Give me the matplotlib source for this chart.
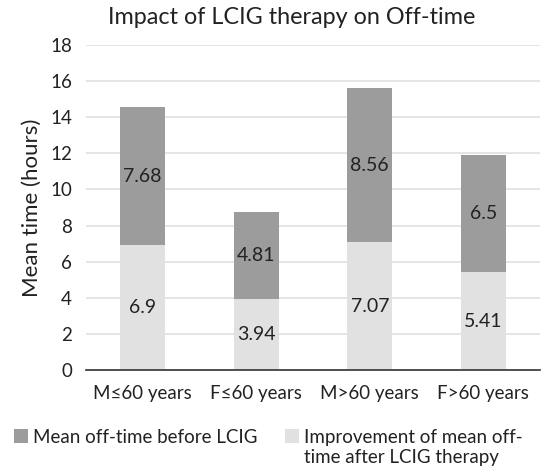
import matplotlib
matplotlib.use("Agg")
import matplotlib.pyplot as plt
import numpy as np

categories = ["M\u226460 years", "F\u226460 years", "M>60 years", "F>60 years"]
improvement = [6.9, 3.94, 7.07, 5.41]
before = [7.68, 4.81, 8.56, 6.5]
labels = ["Mean off-time before LCIG", "Improvement of mean off-\ntime after LCIG therapy"]
yticks = [0, 2, 4, 6, 8, 10, 12, 14, 16, 18]

plt.rcParams['font.family'] = ['Lato', 'DejaVu Sans']

fig = plt.figure(figsize=(5.42, 4.69), dpi=100)
ax = fig.add_axes([86/542, 1-370/469, 454/542, 325/469])

x = np.arange(len(categories))
w = 0.395
light = "#e1e1e1"
dark = "#9c9c9c"
txt = "#222222"
b1 = ax.bar(x, improvement, w, color=light, zorder=2)
b2 = ax.bar(x, before, w, bottom=improvement, color=dark, zorder=2)

for i in range(len(x)):
    ax.text(x[i], improvement[i]/2, f"{improvement[i]:g}", ha="center", va="center", fontsize=14, color=txt)
    ax.text(x[i], improvement[i] + before[i]/2, f"{before[i]:g}", ha="center", va="center", fontsize=14, color=txt)

ax.set_xlim(-0.5, 3.5)
ax.set_ylim(0, 18)
ax.set_yticks(yticks)
ax.set_yticklabels([str(t) for t in yticks], fontsize=13.5, color=txt)
ax.set_xticks(x)
ax.set_xticklabels(categories, fontsize=13.5, color=txt)
ax.tick_params(axis="y", length=0, pad=10)
ax.tick_params(axis="x", length=0, pad=11)
ax.yaxis.grid(True, color="#e0e0e0", linewidth=1.2, zorder=0)
ax.set_axisbelow(True)
for s in ["top", "right", "left"]:
    ax.spines[s].set_visible(False)
ax.spines["bottom"].set_color("#333333")
ax.spines["bottom"].set_linewidth(1.2)
ax.spines["bottom"].set_zorder(3)

ax.set_ylabel("Mean time (hours)", fontsize=16, color=txt, labelpad=6)
fig.text(292/542, 1-18/469, "Impact of LCIG therapy on Off-time", ha="center", va="center", fontsize=16.8, color=txt)

leg = fig.legend([b2, b1], labels, loc="upper left", bbox_to_anchor=(5/542, 1-420/469),
                 ncol=2, frameon=False, fontsize=13.5, handlelength=0.75, handleheight=0.75,
                 handletextpad=0.25, columnspacing=1.45, borderpad=0, labelspacing=0.2,
                 labelcolor=txt)
hb = leg._legend_handle_box
hb.align = "top"
for col in hb.get_children():
    col.align = "left"
    for row in col.get_children():
        row.align = "top"

fig.savefig("out.png", dpi=100)
